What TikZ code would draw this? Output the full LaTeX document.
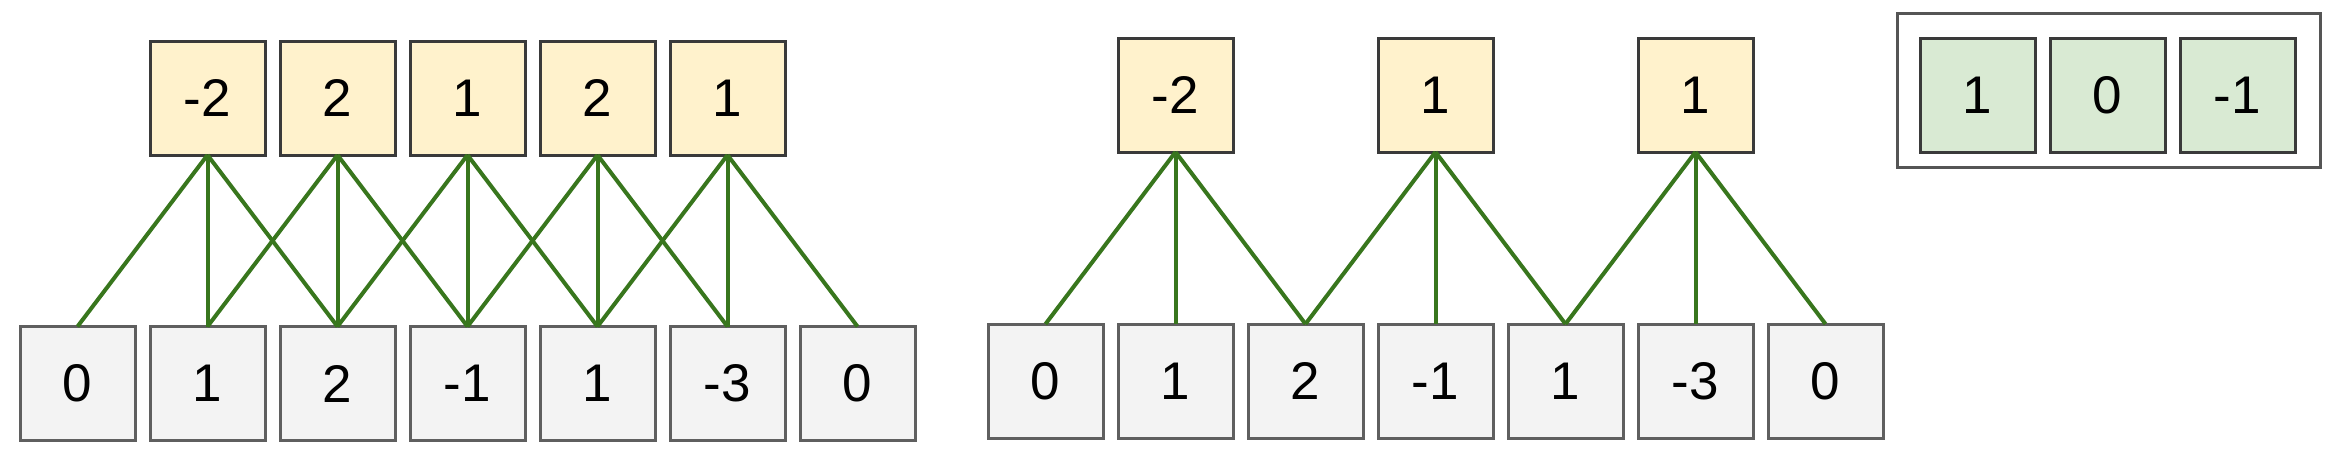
\documentclass[tikz,border=0pt]{standalone}
\usepackage{fontspec}
\setmainfont{Liberation Sans}
\definecolor{topfill}{HTML}{FFF2CC}
\definecolor{botfill}{HTML}{F3F3F3}
\definecolor{grnfill}{HTML}{D9EAD3}
\definecolor{linkgreen}{HTML}{38761D}
\definecolor{topborder}{HTML}{3A3A3A}
\definecolor{botborder}{HTML}{5F5F5F}
\definecolor{frameborder}{HTML}{555555}
\tikzset{
  cell/.style={draw, line width=1.5pt, minimum width=57.5pt, minimum height=57pt,
    inner sep=0pt, outer sep=0pt, font=\fontsize{26.5}{30}\selectfont},
  topcell/.style={cell, fill=topfill, draw=topborder},
  botcell/.style={cell, fill=botfill, draw=botborder},
  grncell/.style={cell, fill=grnfill, draw=topborder},
  link/.style={draw=linkgreen, line width=2pt},
  frame/.style={draw=frameborder, line width=1.5pt}
}
\begin{document}
\begin{tikzpicture}[x=0.5pt,y=-0.5pt]
\useasboundingbox (0,0) rectangle (2338,455);
% left diagram
\foreach \v [count=\i from 0] in {0,1,2,-1,1,-3,0}
  \node[botcell] (lb\i) at ({77.5+130*\i},383.5) {\v};
\foreach \v [count=\j from 0] in {-2,2,1,2,1}
  \node[topcell] (lt\j) at ({207.5+130*\j},98) {\v};
\foreach \j in {0,...,4}{
  \pgfmathtruncatemacro{\a}{\j}
  \pgfmathtruncatemacro{\b}{\j+1}
  \pgfmathtruncatemacro{\c}{\j+2}
  \draw[link] (lt\j.south) -- (lb\a.north);
  \draw[link] (lt\j.south) -- (lb\b.north);
  \draw[link] (lt\j.south) -- (lb\c.north);
}
% middle diagram
\foreach \v [count=\i from 0] in {0,1,2,-1,1,-3,0}
  \node[botcell] (mb\i) at ({1045.5+130*\i},381) {\v};
\foreach \v [count=\j from 0] in {-2,1,1}
  \node[topcell] (mt\j) at ({1175.5+260*\j},95) {\v};
\foreach \j in {0,1,2}{
  \pgfmathtruncatemacro{\a}{2*\j}
  \pgfmathtruncatemacro{\b}{2*\j+1}
  \pgfmathtruncatemacro{\c}{2*\j+2}
  \draw[link] (mt\j.south) -- (mb\a.north);
  \draw[link] (mt\j.south) -- (mb\b.north);
  \draw[link] (mt\j.south) -- (mb\c.north);
}
% kernel
\node[frame, minimum width=211.5pt, minimum height=77pt, inner sep=0pt, outer sep=0pt] (kframe) at (2108.5,90) {};
\foreach \v [count=\k from 0] in {1,0,-1}
  \node[grncell] (k\k) at ({1977.5+130*\k},95) {\v};
\end{tikzpicture}
\end{document}
